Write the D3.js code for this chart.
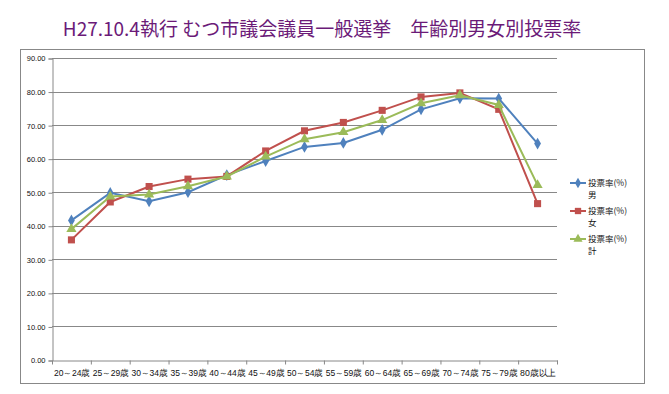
<!DOCTYPE html>
<html lang="ja">
<head>
<meta charset="UTF-8">
<title>年齢別男女別投票率</title>
<script src="https://cdn.jsdelivr.net/npm/d3@7"></script>
<style>
  body { margin: 0; background: #fff; }
  svg { display: block; font-family: "Noto Sans CJK JP", "Noto Sans", sans-serif; }
</style>
</head>
<body>
<div id="chart"></div>
<script>
const titleText = 'H27.10.4執行 むつ市議会議員一般選挙　年齢別男女別投票率'
const ageGroups = ['20～24歳', '25～29歳', '30～34歳', '35～39歳', '40～44歳', '45～49歳', '50～54歳',
                   '55～59歳', '60～64歳', '65～69歳', '70～74歳', '75～79歳', '80歳以上']
const male   = [41.6, 49.8, 47.3, 50.0, 55.1, 59.3, 63.5, 64.7, 68.6, 74.7, 78.0, 77.9, 64.5]
const female = [35.8, 47.1, 51.7, 53.9, 54.7, 62.3, 68.3, 70.8, 74.4, 78.4, 79.6, 74.7, 46.6]
const total  = [39.0, 48.7, 49.3, 51.8, 54.7, 60.6, 65.8, 67.9, 71.5, 76.5, 78.9, 76.0, 52.1]
const yTicks = [0, 10, 20, 30, 40, 50, 60, 70, 80, 90]
const seriesNames = [['投票率(%)', '男'], ['投票率(%)', '女'], ['投票率(%)', '計']]

const W = 669, H = 394
const plotLeft = 52, plotRight = 557, plotTop = 58, plotBottom = 360

const svg = d3.select('#chart').append('svg')
  .attr('width', W).attr('height', H)

// title
svg.append('text')
  .attr('x', 322).attr('y', 36)
  .attr('text-anchor', 'middle')
  .attr('fill', '#6b1a78')
  .attr('font-size', 19)
  .text(titleText)

// chart border
svg.append('rect')
  .attr('x', 20.5).attr('y', 49.5)
  .attr('width', 624).attr('height', 334)
  .attr('fill', 'none').attr('stroke', '#888')

const x = d3.scaleBand().domain(ageGroups).range([plotLeft, plotRight])
const y = d3.scaleLinear().domain([0, 90]).range([plotBottom, plotTop])

// grid
svg.append('g').selectAll('line')
  .data(yTicks.filter(d => d > 0))
  .join('line')
  .attr('x1', plotLeft).attr('x2', plotRight)
  .attr('y1', d => Math.round(y(d)) + 0.5).attr('y2', d => Math.round(y(d)) + 0.5)
  .attr('stroke', '#888')

// y axis
const yAxis = svg.append('g')
  .attr('transform', `translate(${plotLeft + 0.5},0.5)`)
  .call(d3.axisLeft(y).tickValues(yTicks).tickFormat(d3.format('.2f')).tickSize(4))
yAxis.select('.domain').attr('stroke', '#888')
yAxis.selectAll('.tick line').attr('stroke', '#888')
yAxis.selectAll('.tick text').attr('font-size', 7.5).attr('fill', '#111').attr('x', -7)
  .style('font-family', 'Liberation Sans, Arial, sans-serif')

// x axis
const xAxis = svg.append('g')
  .attr('transform', `translate(0.5,${plotBottom + 0.5})`)
  .call(d3.axisBottom(x).tickSize(0).tickPadding(9))
xAxis.select('.domain').attr('stroke', '#888')
// squeeze labels into the band like the original narrow font
xAxis.selectAll('.tick text').attr('font-size', 9).attr('fill', '#111')
  .attr('textLength', 36).attr('lengthAdjust', 'spacingAndGlyphs')
// category boundary ticks
xAxis.append('g').selectAll('line')
  .data(ageGroups.concat(['end']))
  .join('line')
  .attr('x1', (d, i) => i < ageGroups.length ? x(d) : plotRight)
  .attr('x2', (d, i) => i < ageGroups.length ? x(d) : plotRight)
  .attr('y1', 0).attr('y2', 4)
  .attr('stroke', '#888')

const cx = d => x(d) + x.bandwidth() / 2

const series = [
  { values: male, color: '#4f81bd', symbol: d3.symbolDiamond, size: 40 },
  { values: female, color: '#c0504d', symbol: d3.symbolSquare, size: 50 },
  { values: total, color: '#9bbb59', symbol: d3.symbolTriangle, size: 45 }
]

const line = d3.line().x((d, i) => cx(ageGroups[i])).y(d => y(d))

series.forEach(s => {
  svg.append('path')
    .attr('d', line(s.values))
    .attr('fill', 'none')
    .attr('stroke', s.color)
    .attr('stroke-width', 2)
  svg.append('g').selectAll('path')
    .data(s.values)
    .join('path')
    .attr('d', d3.symbol().type(s.symbol).size(s.size))
    .attr('transform', (d, i) => `translate(${cx(ageGroups[i])},${y(d)})`)
    .attr('fill', s.color)
})

// legend
const legend = svg.append('g').attr('transform', 'translate(570,0)')
const legendY = [183, 211, 239]
series.forEach((s, i) => {
  const g = legend.append('g').attr('transform', `translate(0,${legendY[i]})`)
  g.append('line').attr('x1', 0).attr('x2', 16).attr('y1', 0).attr('y2', 0)
    .attr('stroke', s.color).attr('stroke-width', 2)
  g.append('path').attr('d', d3.symbol().type(s.symbol).size(s.size * 0.8))
    .attr('transform', 'translate(8,0)').attr('fill', s.color)
  g.append('text').attr('x', 18).attr('y', 3).attr('font-size', 8.5).attr('fill', '#111')
    .text(seriesNames[i][0])
  g.append('text').attr('x', 18).attr('y', 15).attr('font-size', 8.5).attr('fill', '#111')
    .text(seriesNames[i][1])
})
</script>
</body>
</html>
